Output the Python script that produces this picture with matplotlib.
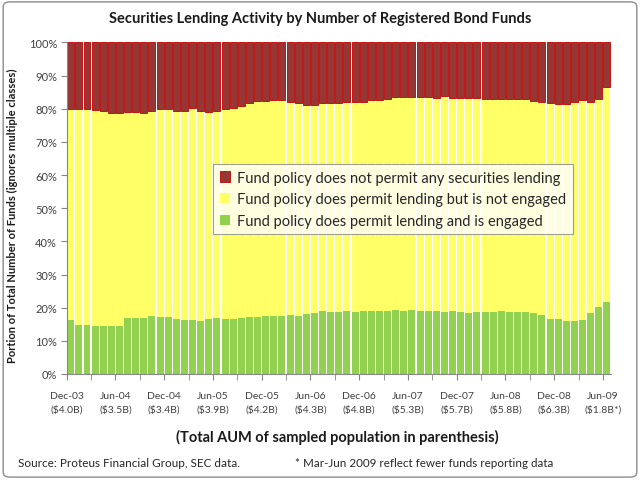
import matplotlib
matplotlib.use('Agg')
import matplotlib.pyplot as plt
import numpy as np
from matplotlib.patches import FancyBboxPatch

plt.rcParams['font.family'] = ['Lato', 'DejaVu Sans']

# share of funds, % (Dec-03 .. Jun-09, monthly)
engaged = [16.4, 14.9, 14.9, 14.6, 14.6, 14.6, 14.6, 16.9, 16.9, 16.9,
           17.4, 17.1, 17.1, 16.6, 16.4, 16.4, 15.9, 16.6, 16.9, 16.6,
           16.6, 16.9, 17.1, 17.1, 17.4, 17.6, 17.6, 17.9, 17.6, 18.1,
           18.4, 18.9, 18.6, 18.6, 18.9, 18.6, 18.9, 18.9, 18.9, 18.9,
           19.2, 18.9, 19.2, 18.9, 18.9, 18.9, 18.6, 18.9, 18.7, 18.4,
           18.6, 18.6, 18.6, 18.9, 18.6, 18.6, 18.6, 18.4, 17.9, 16.6,
           16.6, 16.1, 16.1, 16.4, 18.4, 20.1, 21.6]
not_engaged = [63.6, 65.0, 65.1, 65.0, 64.8, 64.0, 64.0, 62.0, 62.0, 61.9,
               62.0, 62.7, 62.8, 62.8, 63.0, 63.7, 63.3, 62.4, 62.5, 63.3,
               63.7, 63.9, 64.5, 65.3, 65.0, 65.0, 65.0, 64.0, 64.0, 63.0,
               62.7, 62.9, 63.2, 63.2, 63.1, 63.3, 63.0, 63.7, 63.9, 64.1,
               64.4, 64.7, 64.4, 64.7, 64.7, 64.5, 65.2, 64.5, 64.7, 65.0,
               64.8, 64.5, 64.5, 64.2, 64.3, 64.3, 64.3, 63.9, 64.0, 65.0,
               64.8, 65.2, 65.8, 66.4, 63.7, 62.9, 64.9]
not_permitted = [20.0, 20.1, 20.0, 20.4, 20.6, 21.4, 21.4, 21.1, 21.1, 21.2,
                 20.6, 20.2, 20.1, 20.6, 20.6, 19.9, 20.8, 21.0, 20.6, 20.1,
                 19.7, 19.2, 18.4, 17.6, 17.6, 17.4, 17.4, 18.1, 18.4, 18.9,
                 18.9, 18.2, 18.2, 18.2, 18.0, 18.1, 18.1, 17.4, 17.2, 17.0,
                 16.4, 16.4, 16.4, 16.4, 16.4, 16.6, 16.2, 16.6, 16.6, 16.6,
                 16.6, 16.9, 16.9, 16.9, 17.1, 17.1, 17.1, 17.7, 18.1, 18.4,
                 18.6, 18.7, 18.1, 17.2, 17.9, 17.0, 13.5]

period_labels = ['Dec-03', 'Jun-04', 'Dec-04', 'Jun-05', 'Dec-05', 'Jun-06',
                 'Dec-06', 'Jun-07', 'Dec-07', 'Jun-08', 'Dec-08', 'Jun-09']
aum_labels = ['($4.0B)', '($3.5B)', '($3.4B)', '($3.9B)', '($4.2B)', '($4.3B)',
              '($4.8B)', '($5.3B)', '($5.7B)', '($5.8B)', '($6.3B)', '($1.8B*)']

series_names = ['Fund policy does not permit any securities lending',
                'Fund policy does permit lending but is not engaged',
                'Fund policy does permit lending and is engaged']

GREEN = '#92D050'
YELLOW = '#FFFF66'
RED = '#953735'

fig = plt.figure(figsize=(6.4, 4.81), dpi=100)
ax = fig.add_axes([0.1042, 0.2204, 0.8505, 0.6892])

x = np.arange(len(engaged))
eng = np.array(engaged)
neng = np.array(not_engaged)
nperm = np.array(not_permitted)
w = 0.86
b1 = ax.bar(x, eng, w, color=GREEN, linewidth=0)
b2 = ax.bar(x, neng, w, bottom=eng, color=YELLOW, linewidth=0)
b3 = ax.bar(x, nperm, w, bottom=eng + neng, color=RED,
            edgecolor='#C00000', linewidth=0.6)

ax.set_xlim(-0.5, len(x) - 0.5)
ax.set_ylim(0, 100)
ax.set_yticks(np.arange(0, 101, 10))
ax.set_yticklabels([f'{v}%' for v in range(0, 101, 10)], fontsize=8, color='#404040')

ax.set_xticks(np.arange(-0.5, len(x) - 0.5, 3), minor=True)
ax.set_xticks(np.arange(-0.5, len(x) - 0.5, 6)[:len(period_labels)])
ax.set_xticklabels([f'{p}\n{a}' for p, a in zip(period_labels, aum_labels)],
                   fontsize=7.5, color='#404040', linespacing=1.6)
ax.tick_params(axis='x', which='both', length=4, color='#868686', pad=8)
ax.tick_params(axis='y', length=4, color='#868686', pad=3)

for s in ['top', 'right']:
    ax.spines[s].set_visible(False)
for s in ['left', 'bottom']:
    ax.spines[s].set_color('#868686')
    ax.spines[s].set_linewidth(0.8)

leg = ax.legend([b3, b2, b1], series_names, loc='upper left',
                bbox_to_anchor=(0.269, 0.633), borderaxespad=0,
                fontsize=10.5, frameon=True, fancybox=False,
                handlelength=0.7, handleheight=0.7, handletextpad=0.5,
                labelspacing=0.52, borderpad=0.45)
leg.get_frame().set_edgecolor('#868686')
leg.get_frame().set_linewidth(0.8)
for t in leg.get_texts():
    t.set_color('#262626')

fig.text(0.5, 0.960, 'Securities Lending Activity by Number of Registered Bond Funds',
         ha='center', va='center', fontsize=10.5, fontweight='bold', color='#1a1a1a')
fig.text(0.019, 0.551, 'Portion of Total Number of Funds (ignores multiple classes)',
         rotation=90, ha='center', va='center', fontsize=8, fontweight='bold',
         color='#1a1a1a')
fig.text(0.527, 0.0915, '(Total AUM of sampled population in parenthesis)',
         ha='center', va='center', fontsize=10.5, fontweight='bold', color='#1a1a1a')
fig.text(0.028, 0.0374, 'Source: Proteus Financial Group, SEC data.',
         ha='left', va='center', fontsize=8.5, color='#262626')
fig.text(0.461, 0.0374, '* Mar-Jun 2009 reflect fewer funds reporting data',
         ha='left', va='center', fontsize=8.4, color='#262626')

border = FancyBboxPatch((0.005, 0.006), 0.99, 0.988, transform=fig.transFigure,
                        boxstyle='round,pad=0,rounding_size=0.01',
                        facecolor='none', edgecolor='#8c8c8c', linewidth=1.0)
fig.patches.append(border)

fig.savefig('out.png', dpi=100)
